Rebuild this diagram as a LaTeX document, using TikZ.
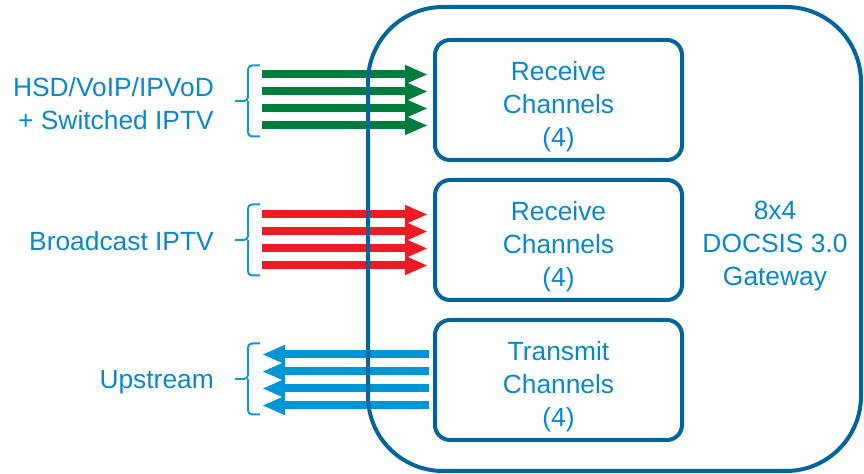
\documentclass[tikz,border=0pt]{standalone}
\usepackage{fontspec}
\setmainfont{Liberation Sans}
\usetikzlibrary{arrows.meta, positioning, calc}
\definecolor{gwblue}{RGB}{0,101,155}
\definecolor{txtblue}{RGB}{10,135,200}
\definecolor{brblue}{RGB}{20,150,215}
\definecolor{dsgreen}{RGB}{0,125,60}
\definecolor{dsred}{RGB}{237,28,36}
\definecolor{usblue}{RGB}{0,150,214}
\tikzset{
  node distance=0.32cm,
  every node/.style={font=\fontsize{15}{18.8}\selectfont, text=txtblue},
  chanbox/.style={draw=gwblue, line width=0.08cm, rounded corners=0.3cm,
    minimum width=4.94cm, minimum height=2.4cm,
    label={[align=center, yshift=-0.13cm]center:#1}},
  feed/.style={line width=0.16cm, -{Triangle[length=0.46cm, width=0.35cm]}},
  bracket/.style={draw=brblue, line width=0.04cm, rounded corners=0.08cm},
}

\begin{document}
\begin{tikzpicture}
  \useasboundingbox (0,0) rectangle (17.28,9.48);

  % channel blocks
  \node[chanbox={Receive\\Channels\\(4)}] at (11.17,7.48) (recv1) {};
  \node[chanbox={Receive\\Channels\\(4)},below=of recv1]  (recv2) {};
  \node[chanbox={Transmit\\Channels\\(4)},below=of recv2] (xmt)   {};

  % bracket tips
  \coordinate (tip1) at (4.70,7.46);
  \coordinate (tip2) at (4.70,4.68);
  \coordinate (tip3) at (4.70,1.90);

  \foreach \t in {tip1,tip2,tip3}
    \draw[bracket] ($(\t)+(0.50,0.71)$) -| ($(\t)+(0.26,0)$) -- (\t)
                   ($(\t)+(0.26,0)$) |- ($(\t)+(0.50,-0.71)$);

  \node[left=0.3cm of tip1, yshift=-0.05cm, align=right] (lbl1) {HSD/VoIP/IPVoD\\+ Switched IPTV};
  \node[left=0.3cm of tip2, yshift=-0.03cm] (lbl2) {Broadcast IPTV};
  \node[left=0.3cm of tip3, yshift=-0.07cm] (lbl3) {Upstream};

  % downstream and upstream flows
  \foreach \dy in {0.51,0.17,-0.17,-0.51} {
    \draw[feed, dsgreen, shorten >=0.1cm] ($(recv1.west)+(-3.42,\dy)$) -- ($(recv1.west)+(0,\dy)$);
    \draw[feed, dsred, shorten >=0.1cm] ($(recv2.west)+(-3.42,\dy)$) -- ($(recv2.west)+(0,\dy)$);
    \draw[feed, usblue, shorten <=0.08cm] ($(xmt.west)+(0,\dy)$) -- ($(xmt.west)+(-3.42,\dy)$);
  }

  % gateway outline
  \node[draw=gwblue, line width=0.08cm, rounded corners=1.5cm,
        minimum width=9.86cm, minimum height=9.28cm] at (12.29,4.70) (gw) {};
  \node[align=center] at (15.5,4.56) (gwlbl) {8x4\\DOCSIS 3.0\\Gateway};
\end{tikzpicture}
\end{document}
